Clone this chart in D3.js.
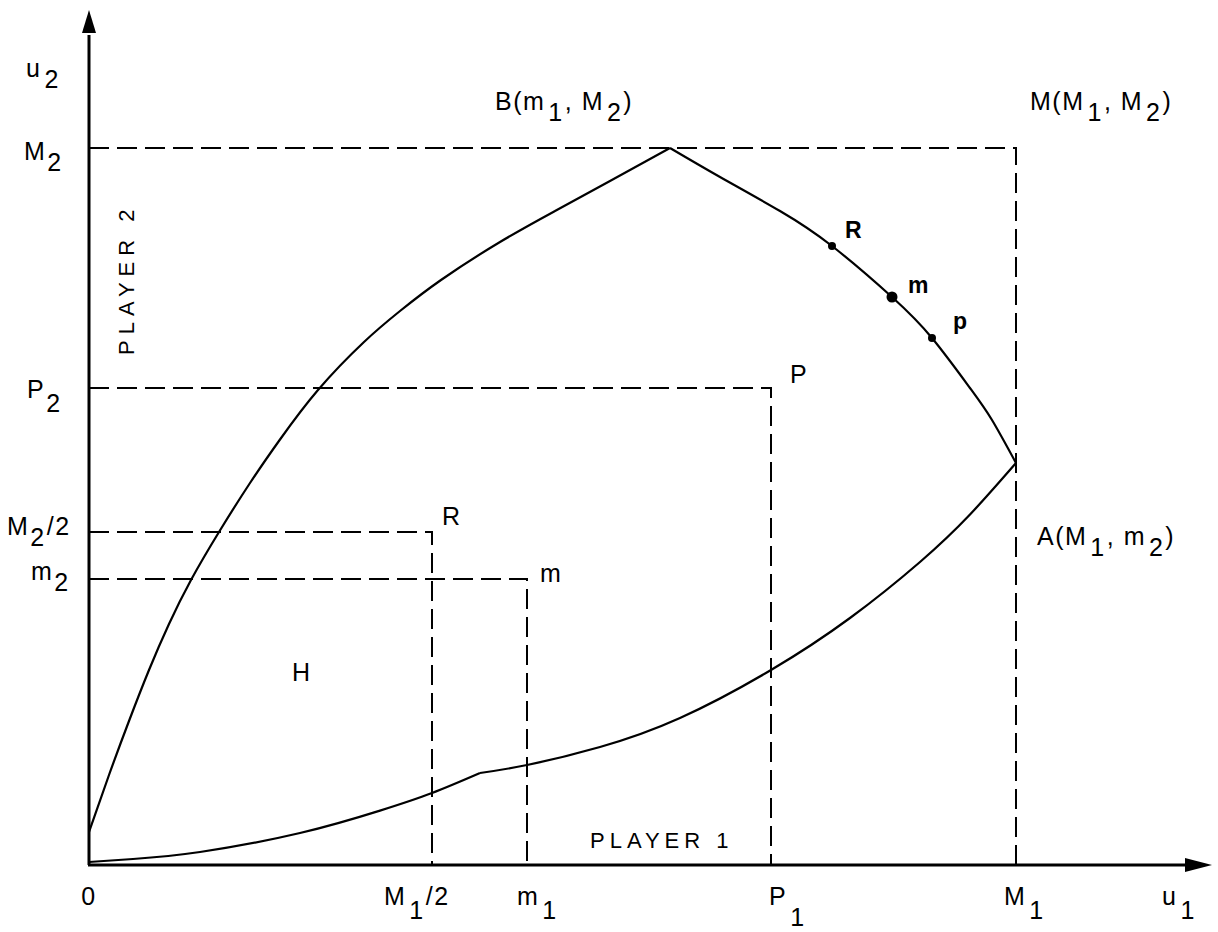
<!doctype html>
<html>
<head>
<meta charset="utf-8"/>
<title>Negotiation set</title>
<script src="https://d3js.org/d3.v7.min.js"></script>
<style>
body { margin:0; background:#fff; }
text { font-family:"Liberation Sans", Arial, Helvetica, sans-serif; fill:#000; }
</style>
</head>
<body>
<script>
// key values on the two utility axes (u1 across, u2 up)
var xTickValues = [0, 34.3, 43.8, 68.2, 92.7];
var xTickLabels = [ [["0"]], [["M"],["1",1],["/2"]], [["m"],["1",1]], [["P"],["1",1]], [["M"],["1",1]] ];
var yTickValues = [71.7, 47.7, 33.3, 28.6];
var yTickLabels = [ [["M"],["2",1]], [["P"],["2",1]], [["M"],["2",1],["/2"]], [["m"],["2",1]] ];

// corners of the dashed guide rectangles: M, P, R, m
var guideU1 = [92.7, 68.2, 34.3, 43.8];
var guideU2 = [71.7, 47.7, 33.3, 28.6];
var guideNames = ["", "P", "R", "m"];

// boundary of the region H
var upperLeft = [[0,3.3],[2,9],[4,14.4],[6,19.5],[8,24.1],[10.2,28.5],[13,33.3],[16.1,38.2],[19.1,42.55],
  [22.9,47.5],[27.5,52.3],[31.1,55.4],[35.2,58.5],[41.1,62.3],[46.6,65.4],[52.1,68.4],[58.1,71.7]];
var upperRight = [[58.1,71.7],[63.1,68.8],[69.1,65.4],[74.3,61.9],[80.3,56.8],[84.3,52.7],[88.1,47.7],[90.3,44.5],[92.7,40.2]];
var lowerCurve = [[0,0.3],[4.4,0.6],[11.1,1.3],[21.1,3.2],[29.1,5.44],[34.3,7.2],[39.1,9.2],
  [43.8,10],[51.1,11.8],[59.1,14.7],[68.2,19.5],[76.1,24.7],[83.1,30.3],[88.1,35.05],[92.7,40.2]];
var lowerKink = 6; // index where the lower boundary bends

// solutions marked on the Pareto edge
var dotNames = ["R", "m", "p"];
var dotU1 = [74.3, 80.3, 84.3];
var dotU2 = [61.9, 56.8, 52.7];

var W = 1218, H = 932;
var svg = d3.select("body").append("svg").attr("width", W).attr("height", H);

var x = d3.scaleLinear().domain([0, 112.3]).range([89, 1212]);
var y = d3.scaleLinear().domain([0, 85.5]).range([865, 10]);

var SUB = 11;
function rich(t, parts, subDy, gap) {
  var down = false;
  parts.forEach(function(p) {
    var s = t.append("tspan").text(p[0]);
    if (p[1] && !down) { s.attr("dy", subDy).attr("dx", gap); down = true; }
    else if (!p[1] && down) { s.attr("dy", -subDy).attr("dx", 1); down = false; }
  });
  return t;
}

// dashed guides
var dash = svg.append("g").attr("stroke", "#000").attr("stroke-width", 2)
  .attr("stroke-dasharray", "20,8").attr("fill", "none");
guideU1.forEach(function(u, i) {
  dash.append("path").attr("d", "M" + x(0) + "," + y(guideU2[i]) + "H" + x(u) + "V" + y(0));
});

// curves
var line = d3.line().x(function(d){ return x(d[0]); }).y(function(d){ return y(d[1]); })
  .curve(d3.curveNatural);
var pieces = [upperLeft, upperRight, lowerCurve.slice(0, lowerKink + 1), lowerCurve.slice(lowerKink)];
pieces.forEach(function(c) {
  svg.append("path").datum(c).attr("d", line).attr("fill", "none")
    .attr("stroke", "#000").attr("stroke-width", 2.2);
});

// axes with arrows
svg.append("line").attr("x1", x(0)).attr("y1", y(0)).attr("x2", x(0)).attr("y2", y(83))
  .attr("stroke", "#000").attr("stroke-width", 3);
svg.append("line").attr("x1", x(0) - 1).attr("y1", y(0)).attr("x2", x(110)).attr("y2", y(0))
  .attr("stroke", "#000").attr("stroke-width", 3);
svg.append("path").attr("d", "M" + x(0) + "," + y(85.5) + "L" + (x(0) + 7) + "," + y(83.2) + "L" + (x(0) - 7) + "," + y(83.2) + "Z");
svg.append("path").attr("d", "M" + x(112.3) + "," + y(0) + "L" + x(109.6) + "," + (y(0) - 7) + "L" + x(109.6) + "," + (y(0) + 7) + "Z");

// dots
dotNames.forEach(function(n, i) {
  svg.append("circle").attr("cx", x(dotU1[i])).attr("cy", y(dotU2[i])).attr("r", n === "m" ? 5.5 : 4).attr("fill", "#000");
});
var dotNudge = [[13, -8], [16, -4], [21, -9]];
dotNames.forEach(function(n, i) {
  svg.append("text").attr("x", x(dotU1[i]) + dotNudge[i][0]).attr("y", y(dotU2[i]) + dotNudge[i][1])
    .attr("font-size", 23).attr("font-weight", "bold").text(n);
});

// tick labels
var lab = svg.append("g").attr("font-size", 25).attr("letter-spacing", 1.5);
var xNudge = [0, -48, -10, -2, -12];
xTickValues.forEach(function(v, i) {
  var t = lab.append("text").attr("x", x(v) + xNudge[i]).attr("y", 905)
    .attr("text-anchor", i === 0 ? "middle" : "start");
  rich(t, xTickLabels[i], i === 3 ? 21 : 14, 3);
});
var u1 = lab.append("text").attr("x", 1162).attr("y", 905);
rich(u1, [["u"], ["1", 1]], 14, 3);

var yBase = [12, 10, 3, 1];
var yStart = [24, 27, 7, 31];
yTickValues.forEach(function(v, i) {
  var t = lab.append("text").attr("x", yStart[i]).attr("y", y(v) + yBase[i]);
  rich(t, yTickLabels[i], i === 1 ? 14 : SUB, 1);
});
var u2 = lab.append("text").attr("x", 26).attr("y", 77);
rich(u2, [["u"], ["2", 1]], SUB, 3);

// point labels
rich(lab.append("text").attr("x", 495).attr("y", 110), [["B(m"],["1",1],[", M"],["2",1],[")"]], SUB, 3);
rich(lab.append("text").attr("x", 1030).attr("y", 110), [["M(M"],["1",1],[", M"],["2",1],[")"]], SUB, 3);
rich(lab.append("text").attr("x", x(92.7) + 21).attr("y", y(40.2) + 82), [["A(M"],["1",1],[", m"],["2",1],[")"]], SUB, 3);
var cornerNudge = [[0,0],[19,-5],[10,-7],[13,3]];
guideNames.forEach(function(n, i) {
  if (!n) return;
  lab.append("text").attr("x", x(guideU1[i]) + cornerNudge[i][0]).attr("y", y(guideU2[i]) + cornerNudge[i][1]).text(n);
});
lab.append("text").attr("x", 292).attr("y", 681).text("H");

// player captions
svg.append("text").attr("x", 590).attr("y", 848).attr("font-size", 22).attr("letter-spacing", 5).text("PLAYER 1");
svg.append("text").attr("transform", "translate(134,355) rotate(-90)").attr("font-size", 22)
  .attr("letter-spacing", 6).text("PLAYER 2");
</script>
</body>
</html>
